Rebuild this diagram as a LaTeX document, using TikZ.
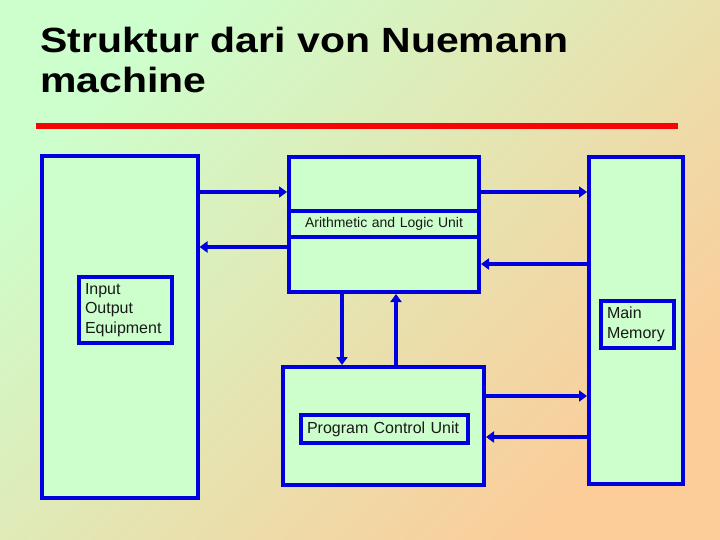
\documentclass[tikz,border=0pt]{standalone}
\usepackage{fontspec}
\setmainfont{Liberation Sans}
\usetikzlibrary{arrows.meta}
\definecolor{bgA}{RGB}{204,255,204}
\definecolor{bgB}{RGB}{252,204,153}
\definecolor{boxfill}{RGB}{204,255,204}
\definecolor{boxblue}{RGB}{0,0,222}
\definecolor{titlered}{RGB}{245,5,5}
\tikzset{
  unitbox/.style={draw=boxblue, fill=boxfill, line width=4pt, inner sep=0pt},
  labelbox/.style={draw=boxblue, fill=boxfill, line width=4pt, inner xsep=6pt, inner ysep=0pt,
    font=\fontsize{16}{19.5}\selectfont, text=black!90, align=left},
  flow/.style={draw=boxblue, line width=4pt, -{Triangle[length=8pt,width=11pt]}},
  titletext/.style={anchor=base west, inner sep=0pt, font=\fontsize{35}{42}\selectfont\bfseries}
}
\begin{document}
\begin{tikzpicture}[x=1pt,y=-1pt]
\useasboundingbox (0,0) rectangle (720,540);
\shade[top color=bgA, bottom color=bgB, middle color=bgA!50!bgB, shading angle=45] (0,0) rectangle (720,540);

% title
\node[titletext] (t1) at (40,53) {\scalebox{1.17}[1]{Struktur dari von Nuemann}};
\node[titletext] (t2) at (40,93) {\scalebox{1.17}[1]{machine}};
\draw[titlered, line width=6pt] (36,126) -- (678,126);

% main boxes
\node[unitbox, minimum width=156pt, minimum height=341.5pt] (io) at (119.5,326.75) {};
\node[unitbox, minimum width=190pt, minimum height=135pt] (alu) at (384,224.5) {};
\node[unitbox, minimum width=94pt, minimum height=327pt] (mm) at (636,320.5) {};
\node[unitbox, minimum width=201pt, minimum height=118pt] (pcu) at (383.5,426) {};

% label boxes
\node[labelbox, text width=81pt, minimum height=66pt] (iol) at (125.5,310) {Input\\Output\\Equipment};
\node[labelbox, text width=178pt, minimum height=26pt, align=center,
      font=\fontsize{14}{16}\selectfont] (alul) at (384,224) {Arithmetic and Logic Unit};
\node[labelbox, text width=61pt, minimum height=47pt] (mml) at (637.5,324.5) {Main\\Memory};
\node[labelbox, text width=155pt, minimum height=28pt] (pcul) at (384.5,429) {Program Control Unit};

% connectors
\draw[flow] (io.east |- 0,192) -- (alu.west |- 0,192);
\draw[flow] (alu.west |- 0,247) -- (io.east |- 0,247);
\draw[flow] (alu.east |- 0,192) -- (mm.west |- 0,192);
\draw[flow] (mm.west |- 0,264) -- (alu.east |- 0,264);
\draw[flow] (pcu.east |- 0,396) -- (mm.west |- 0,396);
\draw[flow] (mm.west |- 0,437) -- (pcu.east |- 0,437);
\draw[flow] (alu.south -| 342,0) -- (pcu.north -| 342,0);
\draw[flow] (pcu.north -| 396,0) -- (alu.south -| 396,0);
\end{tikzpicture}
\end{document}
